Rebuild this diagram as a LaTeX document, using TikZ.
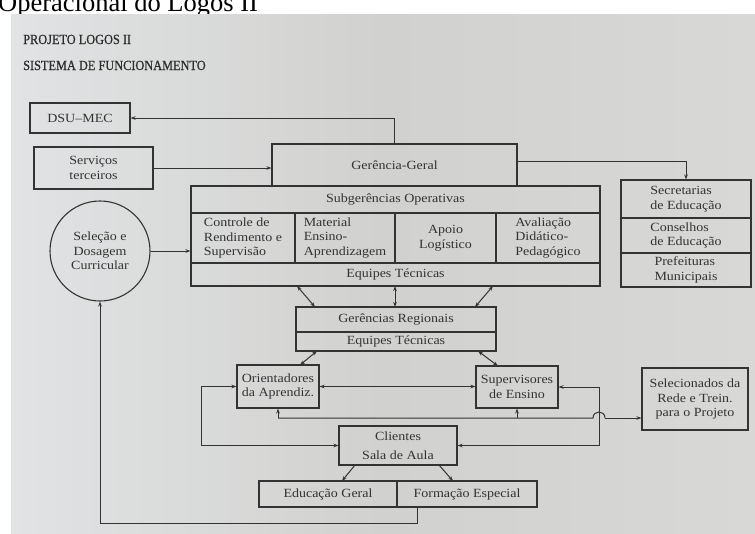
\documentclass[tikz,border=0pt]{standalone}
\usepackage{fontspec}
\setmainfont{Liberation Serif}[FakeStretch=1.12]
\newfontfamily\titlefont{Liberation Serif}[FakeStretch=0.88,FakeBold=0.8]
\newfontfamily\capfont{Liberation Serif}
\usetikzlibrary{arrows.meta,calc}
\definecolor{ink}{HTML}{333333}
\definecolor{bgL}{HTML}{E1E3E4}
\definecolor{bgM}{HTML}{D1D1CF}
\definecolor{bgR}{HTML}{D8D8D6}
\begin{document}
\begin{tikzpicture}[x=1pt,y=-1pt,
  txt/.style={font=\fontsize{12.5}{14.5}\selectfont, text=ink},
  box/.style={draw=ink, line width=1.1pt, inner sep=0pt, align=center, txt},
  lbox/.style={box, align=left},
  conn/.style={draw=ink, line width=1pt},
  arr/.style={conn, -{Stealth[length=5pt,width=3.6pt]}},
  darr/.style={conn, {Stealth[length=5pt,width=3.6pt]}-{Stealth[length=5pt,width=3.6pt]}},
  ttl/.style={anchor=base west, inner sep=0pt, text=ink!90!black, font=\titlefont\fontsize{14}{14}\selectfont}
]
\useasboundingbox (0,0) rectangle (755,533);
\clip (0,0) rectangle (755,533);
\fill[white] (0,0) rectangle (755,533);
\node[anchor=base west, inner sep=0pt, font=\capfont\fontsize{26.5}{26.5}\selectfont] (cap) at (-2,11) {Operacional do Logos II};
\shade[left color=bgL, right color=bgR, middle color=bgM] (11,14) rectangle (755,533);

% titles
\node[ttl] (t1) at (23,44) {PROJETO LOGOS II};
\node[ttl] (t2) at (23,70) {SISTEMA DE FUNCIONAMENTO};

% top left boxes
\node[box, minimum width=100pt, minimum height=30pt] (dsu) at (80,118) {DSU–MEC};
\node[box, minimum width=119pt, minimum height=42pt] (serv) at (93.5,168) {Serviços\\terceiros};
\node[box, circle, minimum size=100pt] (circ) at (100,251) {Seleção e\\Dosagem\\Curricular};

% central block
\node[box, minimum width=245pt, minimum height=42pt] (ger) at (394.5,165) {Gerência-Geral};
\node[box, minimum width=409pt, minimum height=27pt] (subg) at (395.5,199.5) {Subgerências Operativas};
\node[lbox, minimum width=104pt, minimum height=50pt] (c1) at (243,238) {Controle de\\Rendimento e\\Supervisão};
\node[lbox, minimum width=100pt, minimum height=50pt] (c2) at (345,238) {Material\\Ensino-\\Aprendizagem};
\node[box, minimum width=101pt, minimum height=50pt] (c3) at (445.5,238) {Apoio\\Logístico};
\node[lbox, minimum width=104pt, minimum height=50pt] (c4) at (548,238) {Avaliação\\Didático-\\Pedagógico};
\node[box, minimum width=409pt, minimum height=23pt] (eqt) at (395.5,274.5) {Equipes Técnicas};

% right column
\node[lbox, minimum width=130pt, minimum height=38pt] (sec1) at (686,199) {Secretarias\\de Educação};
\node[lbox, minimum width=130pt, minimum height=35pt] (sec2) at (686,235.5) {Conselhos\\de Educação};
\node[lbox, minimum width=130pt, minimum height=34pt] (sec3) at (686,270) {Prefeituras\\Municipais};

% regional
\node[box, minimum width=200pt, minimum height=25pt] (reg1) at (396,319.5) {Gerências Regionais};
\node[box, minimum width=200pt, minimum height=19pt] (reg2) at (396,341.5) {Equipes Técnicas};

\node[box, minimum width=82pt, minimum height=43pt] (ori) at (278,386.5) {Orientadores\\da Aprendiz.};
\node[box, minimum width=82pt, minimum height=42pt] (sup) at (517,387) {Supervisores\\de Ensino};
\node[box, minimum width=106pt, minimum height=62pt] (sel) at (695,399) {Selecionados da\\Rede e Trein.\\para o Projeto};

\node[box, minimum width=118pt, minimum height=39pt] (cli) at (398,445.5) {Clientes\\[4pt]Sala de Aula};
\node[box, minimum width=138pt, minimum height=26pt] (edu) at (328,494) {Educação Geral};
\node[box, minimum width=140pt, minimum height=26pt] (form) at (467,494) {Formação Especial};

% connectors top
\draw[arr] (ger.north) |- (dsu.east);
\draw[arr] (serv.east) -- (serv.east -| ger.west);
\draw[arr] ([yshift=4pt]ger.east) -| (sec1.north);
\draw[arr] (circ.east) -- (circ.east -| c1.west);

% equipes <-> regionais
\coordinate (e1) at (297,286); \coordinate (r1) at (315,307);
\coordinate (e2) at (395,286); \coordinate (r2) at (395,307);
\coordinate (e3) at (493,286); \coordinate (r3) at (475,307);
\draw[darr] (e1) -- (r1);
\draw[darr] (e2) -- (r2);
\draw[darr] (e3) -- (r3);

% regionais <-> orientadores / supervisores
\coordinate (g1) at (317,351); \coordinate (o1) at (300,365);
\coordinate (g2) at (478,351); \coordinate (s2) at (498,366);
\draw[darr] (g1) -- (o1);
\draw[darr] (g2) -- (s2);

\draw[darr] (ori.east) -- (ori.east -| sup.west);

% loops to clientes
\coordinate (cL) at (201,445.5);
\coordinate (cR) at (599,445.5);
\draw[darr] (ori.west) -| (cL) |- (cli.west);
\draw[darr] (sup.east) -| (cR) |- (cli.east);

% bottom line at y=418 with hop
\coordinate (b1) at (278,418);
\coordinate (b2) at (517,418);
\coordinate (h1) at (593,418);
\coordinate (h2) at (605,418);
\coordinate (s1) at (sel.west |- b1);
\draw[arr] (b1) -- (b1 |- ori.south);
\draw[arr] (b2) -- (b2 |- sup.south);
\draw[conn] (b1) -- (h1) .. controls ($(h1)+(0,-8)$) and ($(h2)+(0,-8)$) .. (h2);
\draw[arr] (h2) -- (s1);

% clientes -> educacao / formacao
\coordinate (k1) at (355,465); \coordinate (k2) at (342,481);
\coordinate (k3) at (439,465); \coordinate (k4) at (453,481);
\draw[arr] (k1) -- (k2);
\draw[arr] (k3) -- (k4);

% return to circle
\coordinate (fb) at (417,507);
\coordinate (bl) at (100,523);
\draw[arr] (fb) |- (bl) -- (circ.south);
\end{tikzpicture}
\end{document}
